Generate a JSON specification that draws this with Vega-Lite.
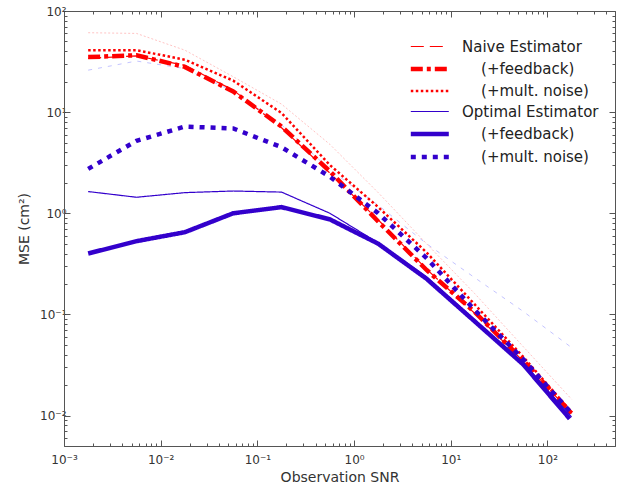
{
  "$schema": "https://vega.github.io/schema/vega-lite/v6.json",
  "width": 551,
  "height": 435,
  "autosize": {"type": "none"},
  "padding": {"left": 64, "top": 11, "right": 10, "bottom": 44},
  "background": "white",
  "config": {
    "font": "DejaVu Sans",
    "view": {"stroke": null},
    "axis": {
      "domainColor": "#555555",
      "tickColor": "#555555",
      "labelColor": "#333333",
      "titleColor": "#333333",
      "labelFont": "DejaVu Sans",
      "titleFont": "DejaVu Sans",
      "titleFontWeight": "normal",
      "labelFontSize": 12,
      "titleFontSize": 14,
      "grid": false
    }
  },
  "datasets": {
    "curves": [
      {"snr": 0.001778, "mse": 34, "series": "Naive Estimator"},
      {"snr": 0.005623, "mse": 36, "series": "Naive Estimator"},
      {"snr": 0.01778, "mse": 29, "series": "Naive Estimator"},
      {"snr": 0.05623, "mse": 16.5, "series": "Naive Estimator"},
      {"snr": 0.1778, "mse": 7.0, "series": "Naive Estimator"},
      {"snr": 0.5623, "mse": 2.5, "series": "Naive Estimator"},
      {"snr": 1.778, "mse": 0.86, "series": "Naive Estimator"},
      {"snr": 5.623, "mse": 0.28, "series": "Naive Estimator"},
      {"snr": 17.78, "mse": 0.102, "series": "Naive Estimator"},
      {"snr": 56.23, "mse": 0.0345, "series": "Naive Estimator"},
      {"snr": 177.8, "mse": 0.0105, "series": "Naive Estimator"},

      {"snr": 0.001778, "mse": 35, "series": "Naive (+feedback)"},
      {"snr": 0.005623, "mse": 36.5, "series": "Naive (+feedback)"},
      {"snr": 0.01778, "mse": 28, "series": "Naive (+feedback)"},
      {"snr": 0.05623, "mse": 16, "series": "Naive (+feedback)"},
      {"snr": 0.1778, "mse": 7.2, "series": "Naive (+feedback)"},
      {"snr": 0.5623, "mse": 2.6, "series": "Naive (+feedback)"},
      {"snr": 1.778, "mse": 0.83, "series": "Naive (+feedback)"},
      {"snr": 5.623, "mse": 0.275, "series": "Naive (+feedback)"},
      {"snr": 17.78, "mse": 0.105, "series": "Naive (+feedback)"},
      {"snr": 56.23, "mse": 0.035, "series": "Naive (+feedback)"},
      {"snr": 177.8, "mse": 0.0105, "series": "Naive (+feedback)"},

      {"snr": 0.001778, "mse": 41, "series": "Naive (+mult. noise)"},
      {"snr": 0.005623, "mse": 41, "series": "Naive (+mult. noise)"},
      {"snr": 0.01778, "mse": 33, "series": "Naive (+mult. noise)"},
      {"snr": 0.05623, "mse": 20.5, "series": "Naive (+mult. noise)"},
      {"snr": 0.1778, "mse": 9.8, "series": "Naive (+mult. noise)"},
      {"snr": 0.5623, "mse": 3.0, "series": "Naive (+mult. noise)"},
      {"snr": 1.778, "mse": 1.15, "series": "Naive (+mult. noise)"},
      {"snr": 5.623, "mse": 0.41, "series": "Naive (+mult. noise)"},
      {"snr": 17.78, "mse": 0.125, "series": "Naive (+mult. noise)"},
      {"snr": 56.23, "mse": 0.038, "series": "Naive (+mult. noise)"},
      {"snr": 177.8, "mse": 0.0108, "series": "Naive (+mult. noise)"},

      {"snr": 0.001778, "mse": 1.64, "series": "Optimal Estimator"},
      {"snr": 0.005623, "mse": 1.44, "series": "Optimal Estimator"},
      {"snr": 0.01778, "mse": 1.6, "series": "Optimal Estimator"},
      {"snr": 0.05623, "mse": 1.66, "series": "Optimal Estimator"},
      {"snr": 0.1778, "mse": 1.62, "series": "Optimal Estimator"},
      {"snr": 0.5623, "mse": 1.0, "series": "Optimal Estimator"},
      {"snr": 1.778, "mse": 0.51, "series": "Optimal Estimator"},
      {"snr": 5.623, "mse": 0.235, "series": "Optimal Estimator"},
      {"snr": 17.78, "mse": 0.088, "series": "Optimal Estimator"},
      {"snr": 56.23, "mse": 0.033, "series": "Optimal Estimator"},
      {"snr": 177.8, "mse": 0.0097, "series": "Optimal Estimator"},

      {"snr": 0.001778, "mse": 0.40, "series": "Optimal (+feedback)"},
      {"snr": 0.005623, "mse": 0.53, "series": "Optimal (+feedback)"},
      {"snr": 0.01778, "mse": 0.65, "series": "Optimal (+feedback)"},
      {"snr": 0.05623, "mse": 1.0, "series": "Optimal (+feedback)"},
      {"snr": 0.1778, "mse": 1.15, "series": "Optimal (+feedback)"},
      {"snr": 0.5623, "mse": 0.87, "series": "Optimal (+feedback)"},
      {"snr": 1.778, "mse": 0.50, "series": "Optimal (+feedback)"},
      {"snr": 5.623, "mse": 0.225, "series": "Optimal (+feedback)"},
      {"snr": 17.78, "mse": 0.085, "series": "Optimal (+feedback)"},
      {"snr": 56.23, "mse": 0.032, "series": "Optimal (+feedback)"},
      {"snr": 170, "mse": 0.0093, "series": "Optimal (+feedback)"},

      {"snr": 0.001778, "mse": 2.75, "series": "Optimal (+mult. noise)"},
      {"snr": 0.005623, "mse": 5.2, "series": "Optimal (+mult. noise)"},
      {"snr": 0.01778, "mse": 7.2, "series": "Optimal (+mult. noise)"},
      {"snr": 0.05623, "mse": 6.9, "series": "Optimal (+mult. noise)"},
      {"snr": 0.1778, "mse": 4.5, "series": "Optimal (+mult. noise)"},
      {"snr": 0.5623, "mse": 2.3, "series": "Optimal (+mult. noise)"},
      {"snr": 1.778, "mse": 1.0, "series": "Optimal (+mult. noise)"},
      {"snr": 5.623, "mse": 0.36, "series": "Optimal (+mult. noise)"},
      {"snr": 17.78, "mse": 0.11, "series": "Optimal (+mult. noise)"},
      {"snr": 56.23, "mse": 0.036, "series": "Optimal (+mult. noise)"},
      {"snr": 177.8, "mse": 0.0105, "series": "Optimal (+mult. noise)"},

      {"snr": 0.001778, "mse": 61, "series": "faint naive"},
      {"snr": 0.005623, "mse": 60, "series": "faint naive"},
      {"snr": 0.01778, "mse": 41, "series": "faint naive"},
      {"snr": 0.05623, "mse": 22.4, "series": "faint naive"},
      {"snr": 0.1778, "mse": 12, "series": "faint naive"},
      {"snr": 0.5623, "mse": 4.8, "series": "faint naive"},
      {"snr": 1.778, "mse": 1.6, "series": "faint naive"},
      {"snr": 5.623, "mse": 0.5, "series": "faint naive"},
      {"snr": 17.78, "mse": 0.16, "series": "faint naive"},
      {"snr": 56.23, "mse": 0.048, "series": "faint naive"},
      {"snr": 177.8, "mse": 0.0145, "series": "faint naive"},

      {"snr": 0.001778, "mse": 26, "series": "faint optimal"},
      {"snr": 0.005623, "mse": 32, "series": "faint optimal"},
      {"snr": 0.01778, "mse": 27, "series": "faint optimal"},
      {"snr": 0.05623, "mse": 16, "series": "faint optimal"},
      {"snr": 0.1778, "mse": 7.5, "series": "faint optimal"},
      {"snr": 0.5623, "mse": 2.7, "series": "faint optimal"},
      {"snr": 1.778, "mse": 1.2, "series": "faint optimal"},
      {"snr": 5.623, "mse": 0.5, "series": "faint optimal"},
      {"snr": 17.78, "mse": 0.23, "series": "faint optimal"},
      {"snr": 56.23, "mse": 0.107, "series": "faint optimal"},
      {"snr": 177.8, "mse": 0.047, "series": "faint optimal"}
    ]
  },
  "data": {"name": "curves"},
  "resolve": {"axis": {"x": "independent", "y": "independent"}},
  "layer": [
    {
      "transform": [{"filter": "datum.series == 'Naive Estimator'"}],
      "mark": {"type": "line", "opacity": 0},
      "encoding": {
        "x": {
          "field": "snr", "type": "quantitative",
          "scale": {"type": "log", "domain": [0.001, 500], "nice": false},
          "axis": {
            "orient": "top", "labels": false, "title": null,
            "values": [0.001,0.002,0.003,0.004,0.005,0.006,0.007,0.008,0.009,0.01,0.02,0.03,0.04,0.05,0.06,0.07,0.08,0.09,0.1,0.2,0.3,0.4,0.5,0.6,0.7,0.8,0.9,1,2,3,4,5,6,7,8,9,10,20,30,40,50,60,70,80,90,100,200,300,400,500],
            "tickSize": {"condition": {"test": "abs(log(datum.value)/LN10 - round(log(datum.value)/LN10)) < 0.001", "value": -6}, "value": -3}
          }
        },
        "y": {
          "field": "mse", "type": "quantitative",
          "scale": {"type": "log", "domain": [0.005, 100], "nice": false},
          "axis": {
            "orient": "right", "labels": false, "title": null,
            "values": [0.005,0.006,0.007,0.008,0.009,0.01,0.02,0.03,0.04,0.05,0.06,0.07,0.08,0.09,0.1,0.2,0.3,0.4,0.5,0.6,0.7,0.8,0.9,1,2,3,4,5,6,7,8,9,10,20,30,40,50,60,70,80,90,100],
            "tickSize": {"condition": {"test": "abs(log(datum.value)/LN10 - round(log(datum.value)/LN10)) < 0.001", "value": -6}, "value": -3}
          }
        }
      }
    },
    {
      "transform": [{"filter": "datum.series == 'faint naive'"}],
      "mark": {"type": "line", "color": "#ffc4c4", "strokeWidth": 1, "strokeDash": [2, 2]},
      "encoding": {
        "x": {"field": "snr", "type": "quantitative", "scale": {"type": "log", "domain": [0.001, 500], "nice": false}, "axis": null},
        "y": {"field": "mse", "type": "quantitative", "scale": {"type": "log", "domain": [0.005, 100], "nice": false}, "axis": null}
      }
    },
    {
      "transform": [{"filter": "datum.series == 'faint optimal'"}],
      "mark": {"type": "line", "color": "#c4c4ff", "strokeWidth": 1, "strokeDash": [4, 6]},
      "encoding": {
        "x": {"field": "snr", "type": "quantitative", "scale": {"type": "log", "domain": [0.001, 500], "nice": false}, "axis": null},
        "y": {"field": "mse", "type": "quantitative", "scale": {"type": "log", "domain": [0.005, 100], "nice": false}, "axis": null}
      }
    },
    {
      "transform": [{"filter": "indexof(datum.series, 'faint') < 0"}],
      "mark": {"type": "line"},
      "encoding": {
        "x": {
          "field": "snr", "type": "quantitative",
          "scale": {"type": "log", "domain": [0.001, 500], "nice": false},
          "axis": {
            "orient": "bottom", "title": "Observation SNR", "titlePadding": 2,
            "values": [0.001,0.002,0.003,0.004,0.005,0.006,0.007,0.008,0.009,0.01,0.02,0.03,0.04,0.05,0.06,0.07,0.08,0.09,0.1,0.2,0.3,0.4,0.5,0.6,0.7,0.8,0.9,1,2,3,4,5,6,7,8,9,10,20,30,40,50,60,70,80,90,100,200,300,400,500],
            "labelExpr": "abs(log(datum.value)/LN10 - round(log(datum.value)/LN10)) < 0.001 ? ['10⁻³','10⁻²','10⁻¹','10⁰','10¹','10²'][round(log(datum.value)/LN10)+3] : ''",
            "labelPadding": 14,
            "labelFlush": false,
            "labelOverlap": false,
            "tickSize": {"condition": {"test": "abs(log(datum.value)/LN10 - round(log(datum.value)/LN10)) < 0.001", "value": -6}, "value": -3}
          }
        },
        "y": {
          "field": "mse", "type": "quantitative",
          "scale": {"type": "log", "domain": [0.005, 100], "nice": false},
          "axis": {
            "orient": "left", "title": "MSE (cm²)", "titlePadding": 8,
            "values": [0.005,0.006,0.007,0.008,0.009,0.01,0.02,0.03,0.04,0.05,0.06,0.07,0.08,0.09,0.1,0.2,0.3,0.4,0.5,0.6,0.7,0.8,0.9,1,2,3,4,5,6,7,8,9,10,20,30,40,50,60,70,80,90,100],
            "labelExpr": "abs(log(datum.value)/LN10 - round(log(datum.value)/LN10)) < 0.001 ? ['10⁻³','10⁻²','10⁻¹','10⁰','10¹','10²'][round(log(datum.value)/LN10)+3] : ''",
            "labelPadding": 4,
            "labelFlush": false,
            "labelOverlap": false,
            "tickSize": {"condition": {"test": "abs(log(datum.value)/LN10 - round(log(datum.value)/LN10)) < 0.001", "value": -6}, "value": -3}
          }
        },
        "color": {
          "field": "series", "type": "nominal",
          "scale": {
            "domain": ["Naive Estimator", "Naive (+feedback)", "Naive (+mult. noise)", "Optimal Estimator", "Optimal (+feedback)", "Optimal (+mult. noise)"],
            "range": ["#ff0000", "#ff0000", "#ff0000", "#3300cc", "#3300cc", "#3300cc"]
          },
          "legend": {
            "title": null, "orient": "none", "legendX": 350, "legendY": 25,
            "symbolType": "M-1.6,0H2.4", "symbolSize": 361,
            "symbolFillColor": "transparent",
            "labelFontSize": 15, "labelColor": "#222222", "labelOffset": 24,
            "labelLimit": 300, "rowPadding": 2,
            "labelExpr": "indexof(datum.label, 'Estimator') >= 0 ? datum.label : '\u200b\u00a0\u00a0\u00a0\u00a0' + replace(replace(datum.label, 'Naive ', ''), 'Optimal ', '')"
          }
        },
        "strokeDash": {
          "field": "series", "type": "nominal",
          "scale": {
            "domain": ["Naive Estimator", "Naive (+feedback)", "Naive (+mult. noise)", "Optimal Estimator", "Optimal (+feedback)", "Optimal (+mult. noise)"],
            "range": [[13, 6], [12, 4, 4, 4], [2.5, 2.5], [1, 0], [1, 0], [5, 6]]
          }
        },
        "strokeWidth": {
          "field": "series", "type": "nominal",
          "scale": {
            "type": "ordinal",
            "domain": ["Naive Estimator", "Naive (+feedback)", "Naive (+mult. noise)", "Optimal Estimator", "Optimal (+feedback)", "Optimal (+mult. noise)"],
            "range": [1.2, 4.5, 2.5, 1.2, 4.5, 4.5]
          }
        }
      }
    }
  ]
}
